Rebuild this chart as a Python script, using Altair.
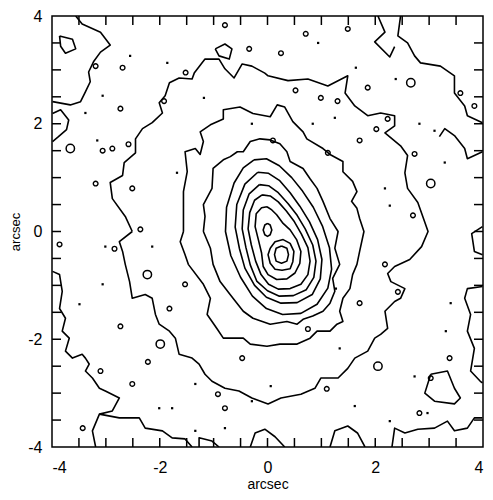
import altair as alt
import pandas as pd

# ---- contour vertices (arcsec) ----
RING_L = [(0.00, 0.15), (0.05, 0.12), (0.08, 0.03), (0.05, -0.06), (0.00, -0.09),
          (-0.05, -0.06), (-0.08, 0.03), (-0.05, 0.12)]
RING_K = [(0.26, -0.27), (0.36, -0.31), (0.39, -0.43), (0.36, -0.55), (0.26, -0.59),
          (0.16, -0.55), (0.13, -0.43), (0.16, -0.31)]
RING_J = [(0.05, -0.31), (0.14, -0.19), (0.29, -0.15), (0.42, -0.22), (0.49, -0.37),
          (0.47, -0.56), (0.42, -0.69), (0.27, -0.72), (0.14, -0.70), (0.05, -0.59),
          (0.01, -0.43)]
RING_H = [(-0.01, 0.46), (0.08, 0.40), (0.17, 0.31), (0.29, 0.15), (0.42, 0.03),
          (0.54, -0.15), (0.62, -0.37), (0.60, -0.59), (0.51, -0.77), (0.36, -0.88),
          (0.17, -0.89), (0.01, -0.80), (-0.08, -0.65), (-0.11, -0.40), (-0.17, -0.15),
          (-0.23, 0.09), (-0.21, 0.33), (-0.11, 0.44)]
RING_G = [(-0.10, 0.68), (0.05, 0.66), (0.20, 0.55), (0.35, 0.38), (0.50, 0.18),
          (0.63, -0.05), (0.75, -0.30), (0.79, -0.55), (0.75, -0.80), (0.62, -0.98),
          (0.42, -1.06), (0.20, -1.07), (0.02, -0.98), (-0.12, -0.80), (-0.22, -0.55),
          (-0.30, -0.25), (-0.36, 0.05), (-0.33, 0.35), (-0.24, 0.58)]
RING_F = [(-0.15, 0.87), (0.02, 0.85), (0.20, 0.72), (0.38, 0.52), (0.55, 0.30),
          (0.70, 0.05), (0.84, -0.25), (0.90, -0.55), (0.86, -0.85), (0.72, -1.08),
          (0.48, -1.19), (0.22, -1.20), (0.00, -1.10), (-0.20, -0.92), (-0.32, -0.62),
          (-0.40, -0.30), (-0.47, 0.05), (-0.45, 0.40), (-0.34, 0.70)]
RING_E = [(-0.18, 1.10), (0.02, 1.08), (0.22, 0.95), (0.42, 0.72), (0.60, 0.47),
          (0.78, 0.18), (0.93, -0.15), (1.01, -0.52), (0.98, -0.88), (0.83, -1.17),
          (0.55, -1.32), (0.25, -1.33), (-0.02, -1.22), (-0.24, -1.00), (-0.42, -0.68),
          (-0.52, -0.32), (-0.60, 0.08), (-0.57, 0.50), (-0.42, 0.88)]
RING_D = [(-0.25, 1.33), (-0.02, 1.35), (0.22, 1.22), (0.45, 1.00), (0.65, 0.75),
          (0.85, 0.45), (1.02, 0.10), (1.15, -0.30), (1.19, -0.70), (1.12, -1.05),
          (0.92, -1.35), (0.62, -1.52), (0.28, -1.54), (-0.02, -1.43), (-0.28, -1.20),
          (-0.50, -0.85), (-0.68, -0.45), (-0.78, 0.00), (-0.76, 0.45), (-0.62, 0.90),
          (-0.45, 1.18)]
RING_C = [(-1.19, 0.0), (-1.16, 0.28), (-1.19, 0.50), (-1.03, 0.80), (-1.01, 1.17),
          (-0.82, 1.33), (-0.69, 1.39), (-0.56, 1.48), (-0.45, 1.48), (-0.32, 1.67),
          (-0.14, 1.72), (0.05, 1.70), (0.23, 1.63), (0.36, 1.48), (0.42, 1.30),
          (0.66, 1.17), (0.79, 0.98), (0.92, 0.80), (1.03, 0.56), (1.16, 0.24),
          (1.31, 0.0), (1.25, -0.31), (1.34, -0.61), (1.21, -0.87), (1.25, -1.11),
          (1.16, -1.33), (1.03, -1.48), (0.84, -1.57), (0.66, -1.63), (0.55, -1.72),
          (0.36, -1.67), (0.05, -1.72), (-0.27, -1.61), (-0.45, -1.48), (-0.64, -1.24),
          (-0.88, -0.93), (-1.01, -0.61), (-1.06, -0.31)]
RING_B = [(-1.56, 0.0), (-1.56, 0.37), (-1.56, 0.74), (-1.49, 1.11), (-1.53, 1.48),
          (-1.34, 1.54), (-1.25, 1.43), (-1.19, 1.67), (-1.25, 1.85), (-1.06, 1.98),
          (-0.82, 2.09), (-0.82, 2.26), (-0.51, 2.31), (-0.27, 2.19), (0.05, 2.13),
          (0.18, 2.35), (0.32, 2.31), (0.47, 2.04), (0.66, 1.85), (0.73, 1.72),
          (1.03, 1.54), (1.16, 1.43), (1.40, 1.30), (1.40, 1.11), (1.58, 0.93),
          (1.66, 0.74), (1.56, 0.56), (1.66, 0.43), (1.71, 0.24), (1.79, 0.0),
          (1.71, -0.37), (1.66, -0.61), (1.58, -0.80), (1.53, -1.06), (1.40, -1.24),
          (1.34, -1.48), (1.40, -1.67), (1.29, -1.72), (1.16, -1.85), (0.92, -1.85),
          (0.79, -1.98), (0.55, -2.09), (0.23, -2.09), (-0.01, -2.13), (-0.32, -2.09),
          (-0.45, -1.98), (-0.82, -1.98), (-0.94, -1.80), (-1.12, -1.54), (-1.06, -1.24),
          (-1.19, -0.98), (-1.47, -0.61), (-1.53, -0.43), (-1.62, -0.19)]
RING_A = [(-2.51, 0.0), (-2.64, 0.28), (-2.88, 0.61), (-2.92, 0.91), (-2.69, 1.04),
          (-2.66, 1.28), (-2.45, 1.46), (-2.45, 1.72), (-2.32, 1.91), (-2.14, 2.02),
          (-1.95, 2.20), (-2.01, 2.39), (-1.90, 2.52), (-1.82, 2.76), (-1.64, 2.85),
          (-1.40, 2.83), (-1.36, 2.94), (-1.16, 3.20), (-0.90, 3.20), (-0.79, 3.02),
          (-0.62, 2.85), (-0.47, 3.11), (-0.29, 3.07), (-0.05, 2.94), (0.01, 2.89),
          (0.38, 2.80), (0.75, 2.83), (1.12, 2.70), (1.49, 2.89), (1.44, 2.57),
          (1.62, 2.33), (1.86, 2.15), (2.10, 2.20), (2.36, 2.15), (2.36, 1.96),
          (2.18, 1.83), (2.47, 1.59), (2.60, 1.41), (2.55, 1.09), (2.60, 0.80),
          (2.79, 0.54), (2.92, 0.17), (2.98, 0.0), (2.86, -0.28), (2.64, -0.52),
          (2.36, -0.65), (2.23, -0.78), (2.29, -0.93), (2.55, -1.06), (2.47, -1.24),
          (2.36, -1.30), (2.18, -1.48), (2.23, -1.80), (2.10, -1.91), (1.99, -1.98),
          (1.86, -2.22), (1.62, -2.35), (1.49, -2.54), (1.31, -2.72), (0.99, -2.72),
          (0.88, -2.91), (0.62, -3.02), (0.25, -3.09), (0.01, -3.20), (-0.29, -3.09),
          (-0.53, -2.96), (-0.79, -2.91), (-1.03, -2.78), (-1.16, -2.65), (-1.27, -2.46),
          (-1.40, -2.35), (-1.64, -2.28), (-1.71, -1.98), (-1.82, -1.85), (-2.01, -1.72),
          (-2.08, -1.54), (-2.14, -1.24), (-2.27, -1.17), (-2.51, -1.24), (-2.56, -0.93),
          (-2.64, -0.61), (-2.69, -0.37), (-2.75, -0.19)]
LOOP_1 = [(3.03, -2.65), (3.34, -2.59), (3.47, -2.91), (3.58, -3.09), (3.47, -3.20),
          (3.10, -3.15), (2.92, -3.00)]
LOOP_2 = [(-3.86, 3.63), (-3.62, 3.57), (-3.56, 3.39), (-3.75, 3.31), (-3.84, 3.44)]
LOOP_3 = [(-0.97, 3.39), (-0.79, 3.48), (-0.66, 3.39), (-0.71, 3.20), (-0.90, 3.26)]

# outer contour pieces that run out through the frame
EDGE_1 = [(-3.56, 4.0), (-3.44, 3.85), (-3.10, 3.70), (-2.92, 3.46), (-3.10, 3.33),
          (-3.23, 3.15), (-3.32, 2.96), (-3.29, 2.78), (-3.38, 2.59), (-3.47, 2.41),
          (-3.66, 2.35), (-3.99, 2.41)]
EDGE_2 = [(-3.99, 2.19), (-3.84, 2.26), (-3.69, 2.07), (-3.73, 1.89), (-3.88, 1.76),
          (-3.99, 1.67)]
EDGE_3 = [(-3.99, -0.74), (-3.86, -0.80), (-3.81, -1.11), (-3.86, -1.43), (-3.75, -1.61),
          (-3.81, -1.85), (-3.68, -1.98), (-3.75, -2.22), (-3.62, -2.35), (-3.44, -2.28),
          (-3.38, -2.35), (-3.31, -2.46), (-3.38, -2.59), (-3.25, -2.72), (-3.12, -2.91),
          (-3.01, -2.96), (-2.75, -3.09), (-2.88, -3.33), (-3.12, -3.39), (-3.25, -3.70),
          (-3.19, -4.0)]
EDGE_4 = [(-3.12, -3.39), (-2.75, -3.46), (-2.38, -3.46), (-2.27, -3.65), (-1.95, -3.70),
          (-1.77, -3.83), (-1.53, -3.85), (-1.40, -4.0)]
EDGE_5 = [(-1.27, -4.0), (-1.27, -3.83), (-1.03, -3.89), (-0.90, -4.0)]
EDGE_6 = [(-0.32, -4.0), (-0.23, -3.74), (-0.05, -3.67), (0.14, -3.81), (0.32, -4.0)]
EDGE_7 = [(1.16, -4.0), (1.25, -3.70), (1.49, -3.61), (1.67, -3.74), (1.81, -4.0)]
EDGE_8 = [(2.31, -4.0), (2.36, -3.65), (2.55, -3.74), (2.79, -3.67), (3.10, -3.65),
          (3.34, -3.52), (3.47, -3.70), (3.71, -3.65), (3.84, -3.46), (3.99, -3.46)]
EDGE_9 = [(3.99, 0.09), (3.79, -0.04), (3.84, -0.37), (3.99, -0.43)]
EDGE_10 = [(3.99, -1.02), (3.71, -1.06), (3.66, -1.24), (3.77, -1.54), (3.71, -1.85),
           (3.84, -2.17), (3.77, -2.59), (3.95, -2.78), (3.99, -2.81)]
EDGE_11 = [(3.99, 1.48), (3.71, 1.35), (3.66, 1.54), (3.47, 1.78), (3.29, 1.91),
           (3.19, 1.76)]
EDGE_12 = [(2.47, 4.0), (2.42, 3.63), (2.60, 3.50), (2.73, 3.26), (2.84, 3.13),
           (3.21, 3.07), (3.47, 2.89), (3.47, 2.57), (3.66, 2.33), (3.71, 2.15),
           (3.99, 2.02)]
EDGE_13 = [(2.05, 4.0), (2.18, 3.70), (1.99, 3.52), (2.27, 3.24), (2.36, 3.43)]

# small closed islands (centres)
BLOB_SMALL = [(-3.19, 3.07), (-2.69, 3.04), (-2.73, 2.28), (-3.06, 1.50), (-2.88, 1.54),
              (-3.19, 0.89), (-2.51, 0.80), (-0.79, 3.83), (-0.34, 3.39), (0.71, 3.67),
              (1.49, 3.76), (0.25, 3.31), (0.99, 2.48), (1.86, 2.67), (2.23, 2.09),
              (3.58, 2.57), (3.84, 2.33), (2.73, 1.44), (1.12, 1.46), (1.71, 1.69),
              (2.18, -0.61), (0.75, -1.81), (1.71, -1.33), (3.38, -2.35), (3.03, -2.72),
              (2.82, -3.37), (-1.82, -1.43), (-2.73, -1.76), (-3.10, -2.59), (-2.51, -2.83),
              (-0.79, -3.28), (-3.43, -3.65), (-0.47, -2.35), (-1.53, -0.98), (-2.36, 0.04),
              (-3.86, -0.24), (0.10, 1.69), (-1.52, 2.95), (0.52, 2.62), (1.30, 2.42),
              (2.02, 1.90), (2.70, 0.30), (2.42, -1.12), (1.10, -2.92), (-0.92, -3.02),
              (-2.22, -2.42), (-2.84, -0.32), (-2.58, 1.62), (-1.92, 2.42)]
BLOB_BIG = [(-3.66, 1.54), (2.66, 2.76), (3.03, 0.89), (2.05, -2.50), (-2.23, -0.80),
            (-1.99, -2.09)]
DOTS = [(-3.06, 2.52), (-3.38, 2.20), (-2.55, 3.26), (-1.86, 3.13), (-1.18, 2.48),
        (-0.29, 2.00), (-1.68, 1.09), (-3.16, 1.69), (0.94, 3.50), (1.64, 3.04),
        (2.38, 2.83), (2.82, 2.00), (0.84, 2.00), (3.10, 1.87), (1.25, 2.11),
        (3.29, 1.28), (2.18, 0.80), (2.27, 0.48), (1.27, -1.06), (1.34, -2.17),
        (0.06, -2.87), (3.31, -1.85), (3.40, -1.33), (2.73, -2.69), (1.62, -3.24),
        (2.27, -3.52), (2.97, -3.37), (-3.01, -0.28), (-2.14, -0.28), (-3.49, -1.35),
        (-1.34, -2.83), (-2.01, -3.28), (-1.77, -3.28), (-1.34, -3.70), (-0.79, -3.65),
        (-0.29, -3.15), (-3.06, -0.98)]

TICKS = [-3.5, -3.0, -2.5, -2.0, -1.5, -1.0, -0.5, 0.0, 0.5, 1.0, 1.5, 2.0, 2.5, 3.0, 3.5]
LABELS = [-4, -2, 0, 2, 4]

CLOSED = {"A": RING_A, "B": RING_B, "C": RING_C, "D": RING_D, "E": RING_E,
          "F": RING_F, "G": RING_G, "H": RING_H, "J": RING_J, "K": RING_K,
          "L": RING_L, "l1": LOOP_1, "l2": LOOP_2, "l3": LOOP_3}
OPEN = {"e1": EDGE_1, "e2": EDGE_2, "e3": EDGE_3, "e4": EDGE_4, "e5": EDGE_5,
        "e6": EDGE_6, "e7": EDGE_7, "e8": EDGE_8, "e9": EDGE_9, "e10": EDGE_10,
        "e11": EDGE_11, "e12": EDGE_12, "e13": EDGE_13}

rows = []
for name, pts in CLOSED.items():
    for i, (x, y) in enumerate(pts + [pts[0]]):
        rows.append({"c": name, "i": i, "x": x, "y": y})
for name, pts in OPEN.items():
    for i, (x, y) in enumerate(pts):
        rows.append({"c": name, "i": i, "x": x, "y": y})
lines_df = pd.DataFrame(rows)
small_df = pd.DataFrame(BLOB_SMALL, columns=["x", "y"])
big_df = pd.DataFrame(BLOB_BIG, columns=["x", "y"])
dots_df = pd.DataFrame(DOTS, columns=["x", "y"])
ticks_df = pd.DataFrame({"x": TICKS, "y": TICKS})

W, H = 431, 431
FONT = "Liberation Sans"
sc = alt.Scale(domain=[-4, 4], nice=False, zero=False)

x_axis = alt.Axis(
    values=LABELS, ticks=False, tickSize=0, domain=False, grid=False,
    labelExpr="'' + datum.value", labelFontSize=16, labelPadding=12,
    labelFont=FONT, labelColor="black", title="arcsec", titleFont=FONT,
    titleFontSize=14, titleFontWeight="normal", titleColor="black", titlePadding=2)
y_axis = alt.Axis(
    values=LABELS, ticks=False, tickSize=0, domain=False, grid=False,
    labelExpr="'' + datum.value", labelFontSize=16, labelPadding=10,
    labelFont=FONT, labelColor="black", title="arcsec", titleFont=FONT,
    titleFontSize=13, titleFontWeight="normal", titleColor="black", titlePadding=5)

x_enc = alt.X("x:Q", scale=sc, axis=x_axis, title="arcsec")
y_enc = alt.Y("y:Q", scale=sc, axis=y_axis, title="arcsec")

lines = alt.Chart(lines_df).mark_line(
    color="black", strokeWidth=1.6, clip=True, strokeJoin="round"
).encode(x=x_enc, y=y_enc, detail="c:N", order="i:Q")

small = alt.Chart(small_df).mark_point(
    shape="circle", filled=False, color="black", size=22, strokeWidth=1.4, opacity=1
).encode(x=x_enc, y=y_enc)
big = alt.Chart(big_df).mark_point(
    shape="circle", filled=False, color="black", size=70, strokeWidth=1.5, opacity=1
).encode(x=x_enc, y=y_enc)
dots = alt.Chart(dots_df).mark_square(
    color="black", size=5, opacity=1
).encode(x=x_enc, y=y_enc)

tick_bottom = alt.Chart(ticks_df).mark_rule(color="black", strokeWidth=1.5).encode(
    x=x_enc, y=alt.value(H), y2=alt.value(H - 9))
tick_top = alt.Chart(ticks_df).mark_rule(color="black", strokeWidth=1.5).encode(
    x=x_enc, y=alt.value(0), y2=alt.value(9))
tick_left = alt.Chart(ticks_df).mark_rule(color="black", strokeWidth=1.5).encode(
    y=y_enc, x=alt.value(0), x2=alt.value(9))
tick_right = alt.Chart(ticks_df).mark_rule(color="black", strokeWidth=1.5).encode(
    y=y_enc, x=alt.value(W), x2=alt.value(W - 9))

chart = alt.layer(
    lines, small, big, dots, tick_bottom, tick_top, tick_left, tick_right
).properties(
    width=W, height=H,
    autosize=alt.AutoSizeParams(type="none"),
    padding={"left": 44, "top": 8, "right": 2, "bottom": 50},
    background="white",
).configure_view(stroke="black", strokeWidth=1.5)

chart.save("out.html", embed_options={"renderer": "svg", "actions": False})
